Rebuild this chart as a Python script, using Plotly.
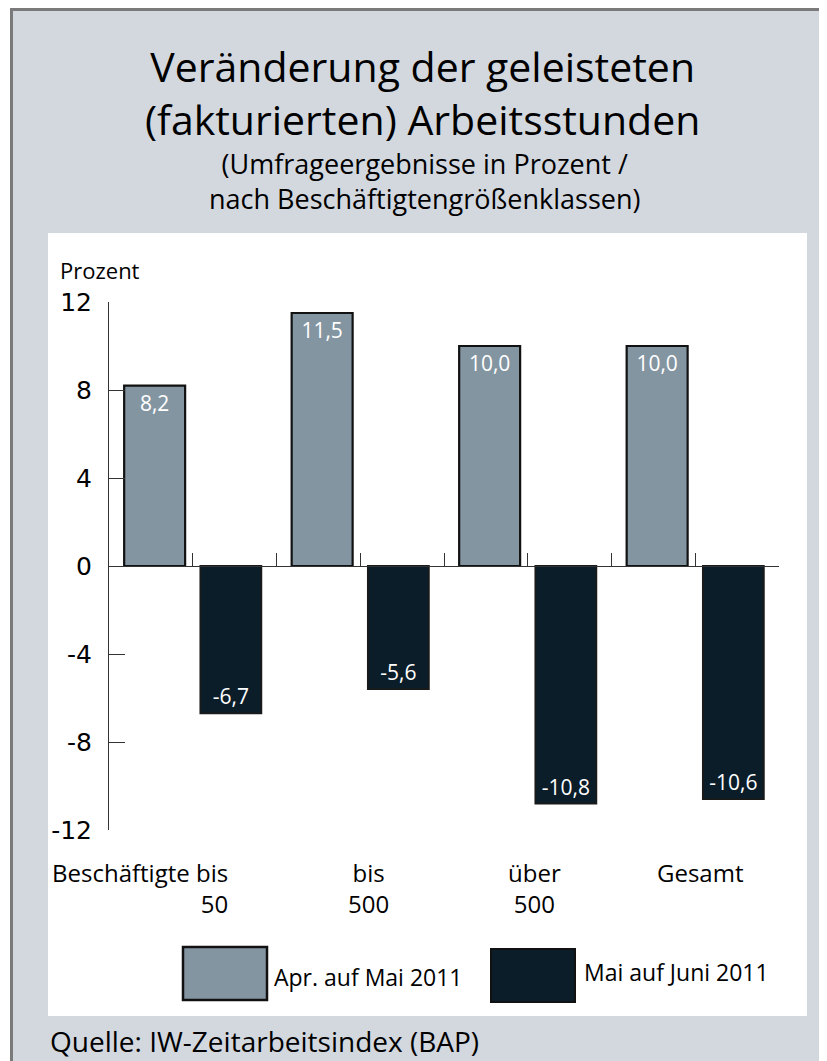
import plotly.graph_objects as go

# ---------------- data ----------------
categories = ["Beschäftigte bis<br>50", "bis<br>500", "über<br>500", "Gesamt"]
series_names = ["Apr. auf Mai 2011", "Mai auf Juni 2011"]
apr_mai = [8.2, 11.5, 10.0, 10.0]
mai_juni = [-6.7, -5.6, -10.8, -10.6]
y_ticks = [-12, -8, -4, 0, 4, 8, 12]
y_tick_labels = ["-12", "-8", "-4", "0", "4", "8", "12"]

# ---------------- style ----------------
OFF = 8                      # page offset of the figure (body margin)
W, H = 819, 1053
L, R, T, B = 101, 48, 294, 231
PW, PH = W - L - R, H - T - B
FONT = "Open Sans"
C_GRAY = "#8495a2"
C_DARK = "#0a1d29"
C_BG = "#d3d8df"
C_BORDER = "#7a7a7a"
C_AXIS = "#333333"


def px(x):
    """page x pixel -> paper coordinate"""
    return (x - OFF - L) / PW


def py(y):
    """page y pixel -> paper coordinate"""
    return (H - B - (y - OFF)) / PH


xs = list(range(len(categories)))

fig = go.Figure()
fig.add_trace(go.Bar(
    x=xs, y=apr_mai, name=series_names[0],
    marker=dict(color=C_GRAY, line=dict(color="#111111", width=2.2)),
    texttemplate="%{y:.1f}", textposition="inside", insidetextanchor="end",
    textfont=dict(family=FONT, size=21, color="white"), cliponaxis=False,
))
fig.add_trace(go.Bar(
    x=xs, y=mai_juni, name=series_names[1],
    marker=dict(color=C_DARK, line=dict(color="#1a1a1a", width=1.8)),
    texttemplate="%{y:.1f}", textposition="inside", insidetextanchor="end",
    textfont=dict(family=FONT, size=21, color="white"), cliponaxis=False,
))

shapes = [
    # outer gray card with border (top / left visible)
    dict(type="rect", xref="paper", yref="paper", x0=px(11.5), x1=px(845), y0=py(9.5), y1=py(1085),
         fillcolor=C_BG, line=dict(color=C_BORDER, width=3), layer="below"),
    # white chart panel
    dict(type="rect", xref="paper", yref="paper", x0=px(48), x1=px(807), y0=py(233), y1=py(1016),
         fillcolor="white", line=dict(width=0), layer="below"),
    # legend swatches
    dict(type="rect", xref="paper", yref="paper", x0=px(183), x1=px(267), y0=py(947), y1=py(1000),
         fillcolor=C_GRAY, line=dict(color="#111111", width=2.5), layer="above"),
    dict(type="rect", xref="paper", yref="paper", x0=px(491), x1=px(575), y0=py(949), y1=py(1002),
         fillcolor=C_DARK, line=dict(color="#111111", width=2), layer="above"),
]

annotations = [
    dict(text="Veränderung der geleisteten<br>(fakturierten) Arbeitsstunden",
         x=px(422), y=py(92), font=dict(size=41)),
    dict(text="(Umfrageergebnisse in Prozent /<br>nach Beschäftigtengrößenklassen)",
         x=px(424), y=py(181), font=dict(size=27)),
    dict(text="Prozent", x=px(58), y=py(270), xanchor="left", font=dict(size=22)),
    dict(text=series_names[0], x=px(272), y=py(977), xanchor="left", font=dict(size=23)),
    dict(text=series_names[1], x=px(582), y=py(972), xanchor="left", font=dict(size=23)),
    dict(text="Quelle: IW-Zeitarbeitsindex (BAP)", x=px(48), y=py(1041), xanchor="left",
         font=dict(size=28)),
]
for a in annotations:
    a.update(xref="paper", yref="paper", showarrow=False)
    a.setdefault("xanchor", "center")
    a["yanchor"] = "middle"
    a["font"].update(family=FONT, color="black")

# category labels under the plot
label_shift = [-53, 8, 7, 5]
label_align = ["right", "center", "center", "center"]
for i, cat in enumerate(categories):
    annotations.append(dict(
        text=cat, x=xs[i], xref="x", y=0, yref="paper", yanchor="top", yshift=-24,
        xshift=label_shift[i], align=label_align[i], showarrow=False,
        font=dict(family=FONT, size=24, color="black"),
    ))

fig.update_layout(
    width=W, height=H,
    margin=dict(l=L, r=R, t=T, b=B, pad=0),
    paper_bgcolor="white", plot_bgcolor="rgba(0,0,0,0)",
    barmode="group", bargap=0.09, bargroupgap=0.2,
    separators=",.",
    showlegend=False,
    shapes=shapes, annotations=annotations,
    font=dict(family=FONT, color="black"),
)
fig.update_xaxes(
    type="linear", range=[-0.5, len(categories) - 0.5],
    anchor="free", position=0.5,
    showline=True, linecolor=C_AXIS, linewidth=1,
    ticks="inside", ticklen=13, tickcolor=C_AXIS, tickwidth=1,
    tickvals=[-0.5 + 0.5 * k for k in range(2 * len(categories) + 1)],
    showticklabels=False, showgrid=False, zeroline=False,
)
fig.update_yaxes(
    range=[-12, 12], tickvals=y_ticks, ticktext=y_tick_labels,
    showline=True, linecolor=C_AXIS, linewidth=1,
    ticks="inside", ticklen=16, tickcolor=C_AXIS, tickwidth=1,
    tickfont=dict(family="DejaVu Sans", size=25, color="black"),
    ticklabelstandoff=11,
    showgrid=False, zeroline=False,
)

fig.write_html("out.html")
